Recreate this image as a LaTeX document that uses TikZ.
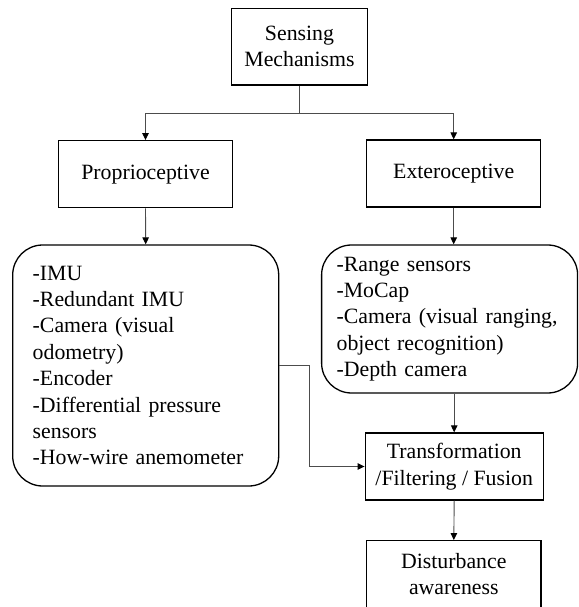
\documentclass[tikz,border=0pt]{standalone}
\usepackage{fontspec}
\setmainfont{Liberation Serif}
\usetikzlibrary{arrows.meta}
\begin{document}
\begin{tikzpicture}[x=1pt,y=-1pt,
  box/.style={draw=black,line width=1.3pt,align=center,inner sep=0pt,
    font=\fontsize{21.8}{26.4}\selectfont},
  listbox/.style={draw=black,line width=1.3pt,rounded corners=30pt,align=left,
    inner ysep=0pt,font=\fontsize{21.8}{26.4}\selectfont},
  conn/.style={draw=black!70,line width=0.9pt},
  arr/.style={conn,-{Triangle[length=7pt,width=6.5pt,color=black]}}]
\useasboundingbox (0,0) rectangle (578,607);
\clip (0,0) rectangle (578,607);
\node[box,minimum width=135.6pt,minimum height=76.7pt] (sense) at (299.5,46.6) {Sensing\\Mechanisms};
\node[box,minimum width=173.7pt,minimum height=67pt] (prop) at (145.5,174.2) {Proprioceptive};
\node[box,minimum width=174pt,minimum height=67pt] (ext) at (453.7,173.5) {Exteroceptive};
\node[listbox,text width=226pt,inner xsep=20pt,minimum height=241pt] (left) at (145.7,365.5)
  {-IMU\\-Redundant IMU\\-Camera (visual\\odometry)\\-Encoder\\-Differential pressure\\sensors\\-How-wire anemometer};
\node[listbox,text width=226pt,inner xsep=15pt,minimum height=148pt] (right) at (449.6,319)
  {-Range sensors\\-MoCap\\-Camera (visual ranging,\\object recognition)\\-Depth camera};
\node[box,minimum width=178pt,minimum height=67pt] (trans) at (454.2,466.5) {Transformation\\/Filtering / Fusion};
\node[box,minimum width=174.3pt,minimum height=67pt] (dist) at (453.8,574.2) {Disturbance\\awareness};
\coordinate (split) at (299.5,113);
\draw[conn] (sense.south) -- (split);
\draw[arr] (split) -| (prop.north);
\draw[arr] (split) -| (ext.north);
\draw[arr] (prop.south) -- (left.north);
\draw[arr] (ext.south) -- (ext.south |- right.north);
\draw[arr] (trans.north |- right.south) -- (trans.north);
\coordinate (bend) at (309.5,365.5);
\draw[arr] (left.east) -- (bend) |- (trans.west);
\draw[arr] (trans.south) -- (dist.north);
\end{tikzpicture}
\end{document}
